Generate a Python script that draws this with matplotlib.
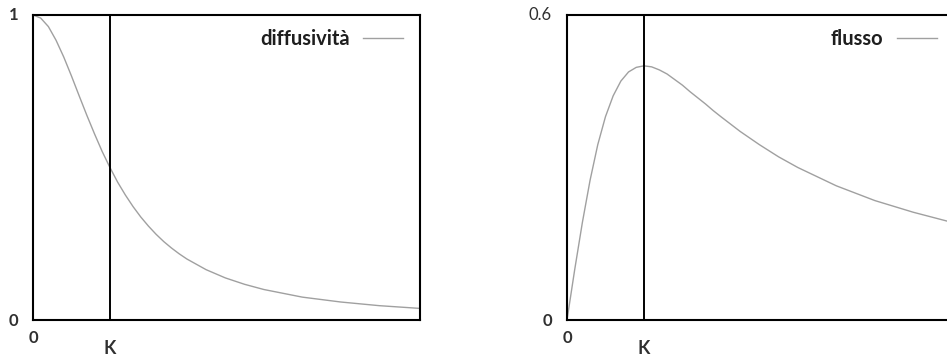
import matplotlib

matplotlib.use("Agg")
import matplotlib.pyplot as plt

# abscissa in units of K (edge-stopping threshold)
s_diff = [0.0, 0.1, 0.2, 0.3, 0.4, 0.5, 0.6, 0.7, 0.8, 0.9, 1.0, 1.1, 1.2,
          1.3, 1.4, 1.5, 1.6, 1.7, 1.8, 1.9, 2.0, 2.25, 2.5, 2.75, 3.0, 3.5,
          4.0, 4.5, 5.03]
diffusivita = [1.000, 0.990, 0.962, 0.917, 0.862, 0.800, 0.735, 0.671, 0.610,
               0.552, 0.500, 0.452, 0.410, 0.372, 0.338, 0.308, 0.281, 0.257,
               0.236, 0.217, 0.200, 0.165, 0.138, 0.117, 0.100, 0.075, 0.059,
               0.047, 0.038]

s_flux = [0.0, 0.1, 0.2, 0.3, 0.4, 0.5, 0.6, 0.7, 0.8, 0.9, 1.0, 1.1, 1.2,
          1.3, 1.4, 1.5, 1.6, 1.7, 1.8, 1.9, 2.0, 2.25, 2.5, 2.75, 3.0, 3.5,
          4.0, 4.5, 5.03]
flusso = [0.000, 0.099, 0.192, 0.275, 0.345, 0.400, 0.441, 0.470, 0.488,
          0.497, 0.500, 0.498, 0.492, 0.484, 0.473, 0.462, 0.449, 0.437,
          0.425, 0.412, 0.400, 0.371, 0.345, 0.321, 0.300, 0.264, 0.235,
          0.212, 0.191]

K = 1.0
x_max = 5.03

plt.rcParams["font.family"] = ["Lato", "DejaVu Sans"]

W, H = 947, 360
fig = plt.figure(figsize=(W / 100, H / 100), dpi=100)
ax_w, ax_h = 387, 305
ax1 = fig.add_axes([33 / W, 40 / H, ax_w / W, ax_h / H])
# right panel runs past the right edge of the figure
ax2 = fig.add_axes([567 / W, 40 / H, ax_w / W, ax_h / H])

curve_col = "#a0a0a0"
lab_col = "#303030"

panels = [
    (ax1, s_diff, diffusivita, "diffusività", 1.0, "1", "bold"),
    (ax2, s_flux, flusso, "flusso", 0.6, "0.6", "normal"),
]
for ax, xs, ys, name, ytop, ytop_lab, ytop_w in panels:
    ax.plot(xs, ys, color=curve_col, lw=1.0, label=name)
    ax.axvline(K, color="black", lw=1.4)
    ax.set_xlim(0, x_max)
    ax.set_ylim(0, ytop)
    ax.set_xticks([])
    ax.set_yticks([])
    for sp in ax.spines.values():
        sp.set_linewidth(1.5)
        sp.set_color("black")

    kw = dict(textcoords="offset pixels", color=lab_col, fontsize=12)
    ax.annotate(ytop_lab, xy=(0, ytop), xytext=(-15, 0), ha="right",
                va="center", fontweight=ytop_w, **kw)
    ax.annotate("0", xy=(0, 0), xytext=(-15, -1), ha="right", va="center",
                fontweight="bold", **kw)
    ax.annotate("0", xy=(0, 0), xytext=(0, -18), ha="center", va="center",
                fontweight="bold", **kw)
    ax.annotate("K", xy=(K, 0), xytext=(0, -28), ha="center", va="center",
                textcoords="offset pixels", color=lab_col, fontsize=13,
                fontweight="bold")

    ax.legend(loc="upper right", frameon=False, markerfirst=False,
              handlelength=2.0, handletextpad=0.65, borderpad=0.0,
              borderaxespad=0.0, prop={"size": 14.5, "weight": "bold"},
              labelcolor="#1e1e1e",
              bbox_to_anchor=(1 - 17 / ax_w, 1 - 14 / ax_h))

fig.savefig("out.png", dpi=100)
